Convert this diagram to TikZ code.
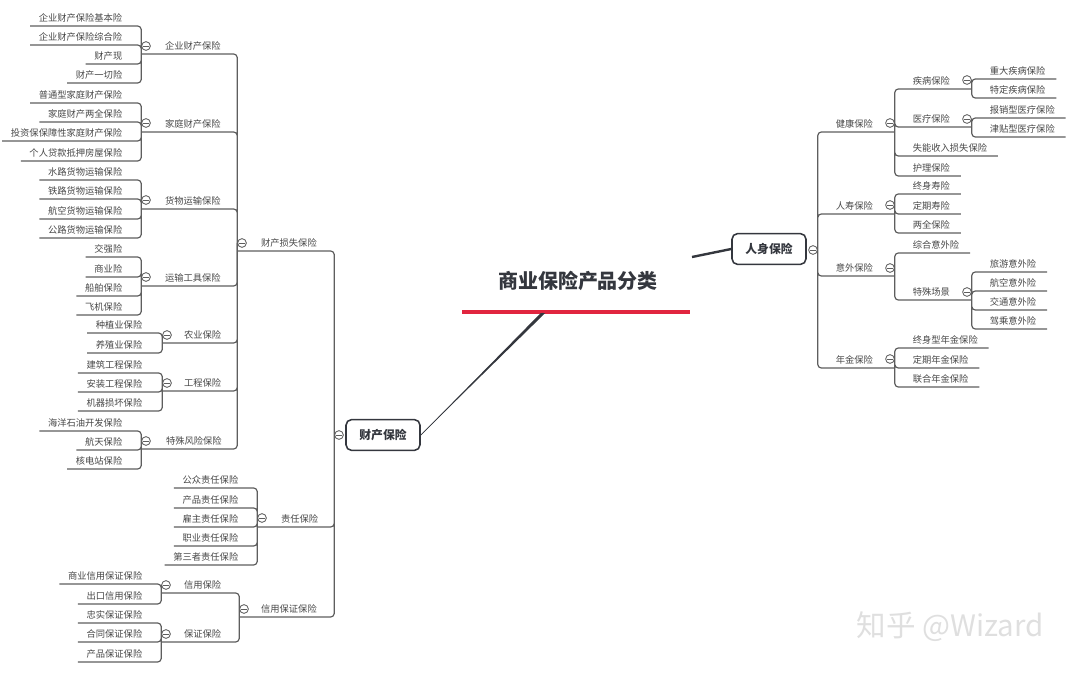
\documentclass[tikz,border=0pt]{standalone}
\usepackage{fontspec}
\setmainfont{Noto Sans CJK SC}
\definecolor{linegray}{HTML}{5E5E5E}
\definecolor{txtgray}{HTML}{474747}
\definecolor{dark}{HTML}{34373E}
\definecolor{hubred}{HTML}{E1253F}
\tikzset{
  ln/.style={draw=linegray, line width=0.85pt, rounded corners=2.5pt},
  lf/.style={font=\fontsize{6.6}{8}\selectfont, text=txtgray, inner xsep=6pt, inner ysep=2.3pt},
  lleaf/.style={lf, anchor=south east},
  rleaf/.style={lf, inner xsep=7.5pt, anchor=south west},
  lsub/.style={lf, inner xsep=2pt, anchor=south west},
  rsub/.style={lf, inner xsep=2pt, anchor=south east},
  fold/.style={circle, draw=linegray, fill=white, line width=0.6pt, minimum size=6.2pt, inner sep=0pt,
    path picture={\draw[linegray, line width=0.5pt] ([xshift=-1.8pt]path picture bounding box.center) -- ([xshift=1.8pt]path picture bounding box.center);}},
  topic/.style={draw=dark, line width=1.1pt, rounded corners=4pt, fill=white, minimum width=1.85cm, minimum height=0.77cm,
    inner sep=0pt, font=\fontsize{8.4}{10}\selectfont\bfseries, text=dark},
}
\begin{document}
\begin{tikzpicture}[x=0.025cm,y=-0.025cm]
\useasboundingbox (0,0) rectangle (1080,676);
\node[font=\fontsize{14.2}{17}\selectfont\bfseries, text=dark] (title) at (578,281) {商业保险产品分类};
\coordinate (bl) at (462,312);
\coordinate (br) at (690,312);
\draw[hubred, line width=3.4pt] (bl) -- (br);
\coordinate (hl) at (543,313);
\coordinate (hr) at (692,257);
\node[topic] (cc) at (383,435) {财产保险};
\node[fold] (ccc) at (339,435) {};
\node[topic] (pp) at (769,249) {人身保险};
\node[fold] (ppc) at (813,250) {};
\fill[dark] (cc.east) -- ([xshift=-1.6pt]hl) -- ([xshift=1.6pt]hl) -- cycle;
\draw[dark, line width=0.5pt] (cc.east) -- (hl);
\draw[dark, line width=1.7pt] (hr) -- (pp.west);

\node[lleaf] (qy1) at (131,26) {企业财产保险基本险};
\node[lleaf] (qy2) at (131,45) {企业财产保险综合险};
\node[lleaf] (qy3) at (131,64) {财产现};
\node[lleaf] (qy4) at (131,83) {财产一切险};
\node[lleaf] (jt1) at (131,103) {普通型家庭财产保险};
\node[lleaf] (jt2) at (131,122) {家庭财产两全保险};
\node[lleaf] (jt3) at (131,141) {投资保保障性家庭财产保险};
\node[lleaf] (jt4) at (131,161) {个人贷款抵押房屋保险};
\node[lleaf] (hy1) at (131,180) {水路货物运输保险};
\node[lleaf] (hy2) at (131,199) {铁路货物运输保险};
\node[lleaf] (hy3) at (131,219) {航空货物运输保险};
\node[lleaf] (hy4) at (131,238) {公路货物运输保险};
\node[lleaf] (ys1) at (131,257) {交强险};
\node[lleaf] (ys2) at (131,277) {商业险};
\node[lleaf] (ys3) at (131,296) {船舶保险};
\node[lleaf] (ys4) at (131,315) {飞机保险};
\node[lleaf] (ny1) at (151,333) {种植业保险};
\node[lleaf] (ny2) at (151,353) {养殖业保险};
\node[lleaf] (gc1) at (151,373) {建筑工程保险};
\node[lleaf] (gc2) at (151,392) {安装工程保险};
\node[lleaf] (gc3) at (151,411) {机器损坏保险};
\node[lleaf] (ts1) at (131,431) {海洋石油开发保险};
\node[lleaf] (ts2) at (131,450) {航天保险};
\node[lleaf] (ts3) at (131,469) {核电站保险};
\node[lleaf] (zr1) at (247,488) {公众责任保险};
\node[lleaf] (zr2) at (247,508) {产品责任保险};
\node[lleaf] (zr3) at (247,527) {雇主责任保险};
\node[lleaf] (zr4) at (247,546) {职业责任保险};
\node[lleaf] (zr5) at (247,565) {第三者责任保险};
\node[lleaf] (xy1) at (151,584) {商业信用保证保险};
\node[lleaf] (xy2) at (151,604) {出口信用保险};
\node[lleaf] (bz1) at (151,623) {忠实保证保险};
\node[lleaf] (bz2) at (151,642) {合同保证保险};
\node[lleaf] (bz3) at (151,662) {产品保证保险};

\node[lsub] (qy) at (162,54) {企业财产保险};
\node[lsub] (jt) at (162,132) {家庭财产保险};
\node[lsub] (hy) at (162,209) {货物运输保险};
\node[lsub] (ys) at (162,286) {运输工具保险};
\node[lsub] (ny) at (181,343) {农业保险};
\node[lsub] (gc) at (181,391) {工程保险};
\node[lsub] (ts) at (163,449) {特殊风险保险};
\node[lsub] (cs) at (258,251) {财产损失保险};
\node[lsub] (zr) at (278,527) {责任保险};
\node[lsub] (xy) at (181,593) {信用保险};
\node[lsub] (bz) at (181,642) {保证保险};
\node[lsub] (xb) at (258,617) {信用保证保险};

\node[fold] (qyc) at (146,46) {};
\node[fold] (jtc) at (146,123) {};
\node[fold] (hyc) at (146,200) {};
\node[fold] (ysc) at (146,277) {};
\node[fold] (nyc) at (167,335) {};
\node[fold] (gcc) at (167,383) {};
\node[fold] (tsc) at (146,441) {};
\node[fold] (csc) at (242,243) {};
\node[fold] (zrc) at (262,518) {};
\node[fold] (xyc) at (166,585) {};
\node[fold] (bzc) at (166,634) {};
\node[fold] (xbc) at (244,609) {};

\draw[ln] (qy1.south west) -| (qyc.west) (qy2.south west) -| (qyc.west) (qy3.south west) -| (qyc.west) (qy4.south west) -| (qyc.west);
\draw[ln] (jt1.south west) -| (jtc.west) (jt2.south west) -| (jtc.west) (jt3.south west) -| (jtc.west) (jt4.south west) -| (jtc.west);
\draw[ln] (hy1.south west) -| (hyc.west) (hy2.south west) -| (hyc.west) (hy3.south west) -| (hyc.west) (hy4.south west) -| (hyc.west);
\draw[ln] (ys1.south west) -| (ysc.west) (ys2.south west) -| (ysc.west) (ys3.south west) -| (ysc.west) (ys4.south west) -| (ysc.west);
\draw[ln] (ny1.south west) -| (nyc.west) (ny2.south west) -| (nyc.west);
\draw[ln] (gc1.south west) -| (gcc.west) (gc2.south west) -| (gcc.west) (gc3.south west) -| (gcc.west);
\draw[ln] (ts1.south west) -| (tsc.west) (ts2.south west) -| (tsc.west) (ts3.south west) -| (tsc.west);
\draw[ln] (zr1.south west) -| (zrc.west) (zr2.south west) -| (zrc.west) (zr3.south west) -| (zrc.west) (zr4.south west) -| (zrc.west) (zr5.south west) -| (zrc.west);
\draw[ln] (xy1.south west) -| (xyc.west) (xy2.south west) -| (xyc.west);
\draw[ln] (bz1.south west) -| (bzc.west) (bz2.south west) -| (bzc.west) (bz3.south west) -| (bzc.west);
\draw[ln] (qyc.west |- qy.south) -| (csc.west) (jtc.west |- jt.south) -| (csc.west) (hyc.west |- hy.south) -| (csc.west) (ysc.west |- ys.south) -| (csc.west);
\draw[ln] (nyc.west |- ny.south) -| (csc.west) (gcc.west |- gc.south) -| (csc.west) (tsc.west |- ts.south) -| (csc.west);
\draw[ln] (xyc.west |- xy.south) -| (xbc.west) (bzc.west |- bz.south) -| (xbc.west);
\draw[ln] (csc.west |- cs.south) -| (ccc.west) (zrc.west |- zr.south) -| (ccc.west) (xbc.west |- xb.south) -| (ccc.west);

\node[rsub] (jk) at (876,132) {健康保险};
\node[rsub] (rs) at (876,214) {人寿保险};
\node[rsub] (yw) at (876,276) {意外保险};
\node[rsub] (nj) at (876,368) {年金保险};
\node[rsub] (jb) at (953,89) {疾病保险};
\node[rsub] (yl) at (953,127) {医疗保险};
\node[rsub] (tc) at (953,300) {特殊场景};
\node[rleaf] (jb1) at (979,79) {重大疾病保险};
\node[rleaf] (jb2) at (979,98) {特定疾病保险};
\node[rleaf] (yl1) at (979,118) {报销型医疗保险};
\node[rleaf] (yl2) at (979,137) {津贴型医疗保险};
\node[rleaf] (jk3) at (902,156) {失能收入损失保险};
\node[rleaf] (jk4) at (902,176) {护理保险};
\node[rleaf] (rs1) at (902,194) {终身寿险};
\node[rleaf] (rs2) at (902,214) {定期寿险};
\node[rleaf] (rs3) at (902,233) {两全保险};
\node[rleaf] (yw1) at (902,253) {综合意外险};
\node[rleaf] (tc1) at (979,272) {旅游意外险};
\node[rleaf] (tc2) at (979,291) {航空意外险};
\node[rleaf] (tc3) at (979,310) {交通意外险};
\node[rleaf] (tc4) at (979,329) {驾乘意外险};
\node[rleaf] (nj1) at (902,348) {终身型年金保险};
\node[rleaf] (nj2) at (902,368) {定期年金保险};
\node[rleaf] (nj3) at (902,387) {联合年金保险};

\node[fold] (jkc) at (890,123) {};
\node[fold] (rsc) at (890,205) {};
\node[fold] (ywc) at (890,268) {};
\node[fold] (njc) at (890,359) {};
\node[fold] (jbc) at (967,80) {};
\node[fold] (ylc) at (967,119) {};
\node[fold] (tcc) at (967,292) {};

\draw[ln] (jb1.south east) -| (jbc.east) (jb2.south east) -| (jbc.east);
\draw[ln] (yl1.south east) -| (ylc.east) (yl2.south east) -| (ylc.east);
\draw[ln] (tc1.south east) -| (tcc.east) (tc2.south east) -| (tcc.east) (tc3.south east) -| (tcc.east) (tc4.south east) -| (tcc.east);
\draw[ln] (jbc.east |- jb.south) -| (jkc.east) (ylc.east |- yl.south) -| (jkc.east) (jk3.south east) -| (jkc.east) (jk4.south east) -| (jkc.east);
\draw[ln] (rs1.south east) -| (rsc.east) (rs2.south east) -| (rsc.east) (rs3.south east) -| (rsc.east);
\draw[ln] (yw1.south east) -| (ywc.east) (tcc.east |- tc.south) -| (ywc.east);
\draw[ln] (nj1.south east) -| (njc.east) (nj2.south east) -| (njc.east) (nj3.south east) -| (njc.east);
\draw[ln] (jkc.east |- jk.south) -| (ppc.east) (rsc.east |- rs.south) -| (ppc.east) (ywc.east |- yw.south) -| (ppc.east) (njc.east |- nj.south) -| (ppc.east);

\node[font=\fontsize{21}{24}\selectfont, text=gray!25] (wmark) at (950,627) {知乎 @Wizard};
\end{tikzpicture}
\end{document}
